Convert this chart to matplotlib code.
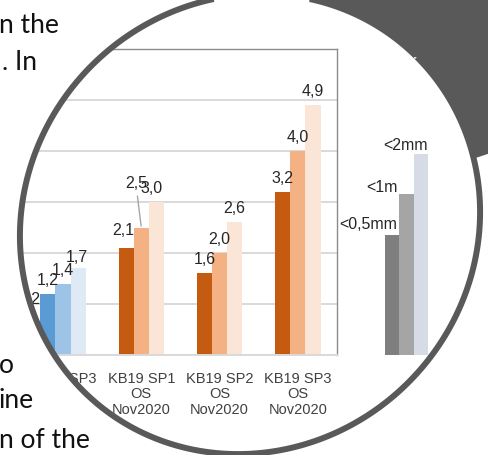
import matplotlib
matplotlib.use("Agg")
import matplotlib.pyplot as plt
from matplotlib.patches import Polygon, PathPatch
from matplotlib.path import Path
import numpy as np

# ── data ──
groups = ["KB19 SP3", "KB19 SP1\nOS\nNov2020", "KB19 SP2\nOS\nNov2020", "KB19 SP3\nOS\nNov2020"]
below_05mm = [1.2, 2.1, 1.6, 3.2]
below_1mm = [1.4, 2.5, 2.0, 4.0]
below_2mm = [1.7, 3.0, 2.6, 4.9]
series = [below_05mm, below_1mm, below_2mm]

legend_labels = ["<0,5mm", "<1m", "<2mm"]
legend_heights = [2.35, 3.15, 3.95]

blue = ["#5b9bd5", "#9dc3e6", "#deebf7"]
orange = ["#c55a11", "#f4b183", "#fbe5d6"]
grey = ["#7f7f7f", "#a5a5a5", "#d6dce5"]
group_colors = [blue, orange, orange, orange]

# label nudges in pixels: (group, bar) -> (dx, dy)
label_nudge = {(0, 2): (-1, 7), (1, 0): (-2.5, 14), (1, 1): (-5.5, 40), (1, 2): (-5, 10)}

W, H = 488, 456
px = 72 / 100  # points per pixel

fig = plt.figure(figsize=(W / 100, H / 100), dpi=100)
fig.patch.set_facecolor("white")


def rect(l, t, r, b):
    return [l / W, 1 - b / H, (r - l) / W, (b - t) / H]


# ── bar chart ──
ax = fig.add_axes(rect(0, 50, 337, 356))
ax.patch.set_visible(False)
ax.set_xlim(-0.805, 3.5)
ax.set_ylim(0, 6)
ax.set_yticks(range(0, 7))
ax.yaxis.grid(True, color="#d9d9d9", linewidth=1.4)
ax.set_axisbelow(True)
ax.tick_params(left=False, bottom=False, labelleft=False)
ax.spines["left"].set_visible(False)
for side in ("top", "right"):
    ax.spines[side].set_color("#8c8c8c")
    ax.spines[side].set_linewidth(1.0)
ax.spines["bottom"].set_color("#d9d9d9")
ax.spines["bottom"].set_linewidth(1.4)

width = 0.193
x = np.arange(len(groups))
for k, vals in enumerate(series):
    for g in range(len(groups)):
        xb = x[g] + (k - 1) * width
        ax.bar(xb, vals[g], width=width, color=group_colors[g][k], linewidth=0)
        dx, dy = label_nudge.get((g, k), (0, 10))
        txt = f"{vals[g]:.1f}".replace(".", ",")
        arrow = None
        if (g, k) == (1, 1):
            arrow = dict(arrowstyle="-", color="#a6a6a6", lw=1.0, shrinkA=2, shrinkB=1)
        ax.annotate(txt, xy=(xb, vals[g]), xytext=(dx * px, dy * px),
                    textcoords="offset points", ha="center", va="baseline",
                    fontsize=11.5, family="Liberation Sans", color="#262626",
                    arrowprops=arrow, annotation_clip=False)

# label of a bar further left, dragged next to the blue group
ax.annotate("1,2", xy=(x[0] - width, below_05mm[0]), xytext=(-7 * px, -9 * px),
            textcoords="offset points", ha="right", va="baseline",
            fontsize=11.5, family="Liberation Sans", color="#262626", annotation_clip=False)

ax.set_xticks(x)
ax.set_xticklabels(groups, fontsize=10.5, family="Liberation Sans", color="#404040",
                   linespacing=1.12)
ax.tick_params(axis="x", pad=8)

# ── grey key bars ──
ax2 = fig.add_axes(rect(385, 50, 428, 356))
ax2.patch.set_visible(False)
ax2.set_xlim(-0.5, 2.5)
ax2.set_ylim(0, 6)
ax2.axis("off")
ax2.bar(range(3), legend_heights, width=1.0, color=grey, linewidth=0)
key_anchor = [0.5, 0.5, 2.5]
key_offsets = [(-2, 7), (-2, 3), (0, 4.5)]
for i, (lab, h) in enumerate(zip(legend_labels, legend_heights)):
    dx, dy = key_offsets[i]
    ax2.annotate(lab, xy=(key_anchor[i], h), xytext=(dx * px, dy * px),
                 textcoords="offset points", ha="right", va="baseline",
                 fontsize=11.5, family="Liberation Sans", color="#262626",
                 annotation_clip=False)

# ── lens: slightly tilted ellipse, page outside it ──
cx, cy = 2.50, (H - 225) / 100
semi_a, semi_b, tilt = 2.36, 2.24, np.deg2rad(45)
t = np.linspace(0, -2 * np.pi, 721)
e1 = np.array([np.cos(tilt), np.sin(tilt)])
e2 = np.array([-np.sin(tilt), np.cos(tilt)])
ring = (np.array([cx, cy])[None, :] + np.outer(semi_a * np.cos(t), e1)
        + np.outer(semi_b * np.sin(t), e2))
outer = np.array([(-1, -1), (W / 100 + 1, -1), (W / 100 + 1, H / 100 + 1), (-1, H / 100 + 1), (-1, -1)])
verts = np.vstack([outer, ring])
codes = ([Path.MOVETO] + [Path.LINETO] * 3 + [Path.CLOSEPOLY]
         + [Path.MOVETO] + [Path.LINETO] * (len(ring) - 2) + [Path.CLOSEPOLY])
page = PathPatch(Path(verts, codes), transform=fig.dpi_scale_trans,
                 facecolor="white", edgecolor="none", zorder=5)
fig.add_artist(page)

banner = Polygon([(289 / 100, (H - 221) / 100), (620 / 100, (H - 111) / 100),
                  (620 / 100, (H + 60) / 100), (209 / 100, (H + 18) / 100)],
                 closed=True, transform=fig.dpi_scale_trans, facecolor="#595959",
                 edgecolor="none", zorder=6)
fig.add_artist(banner)
banner.set_clip_path(page)

doc_lines = [("n the", -1, 33), (". In", 2, 70), ("o", -1, 373), ("ine", -1, 408), ("n of the", -1, 448)]
for s, xx, yy in doc_lines:
    fig.text(xx / W, 1 - yy / H, s, fontsize=19, family="Lato", color="#111111",
             va="baseline", ha="left", zorder=7)

rim = Polygon(ring, closed=True, transform=fig.dpi_scale_trans, facecolor="none",
              edgecolor="#595959", linewidth=4.3, zorder=10)
fig.add_artist(rim)

fig.savefig("out.png", dpi=100)
